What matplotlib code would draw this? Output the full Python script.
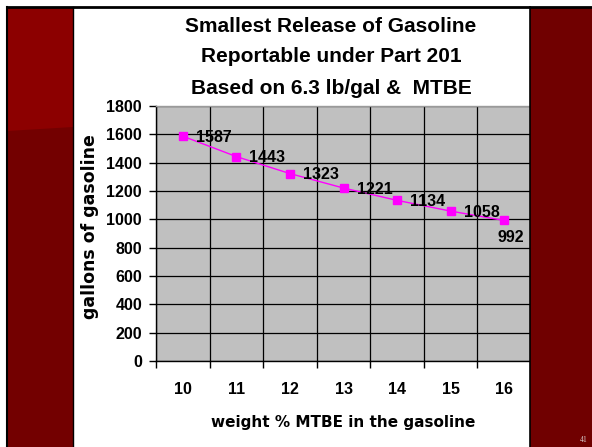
import matplotlib
matplotlib.use("Agg")
import matplotlib.pyplot as plt
from matplotlib.patches import Rectangle, Polygon
from matplotlib.lines import Line2D

plt.rcParams['font.family'] = ['Liberation Sans', 'DejaVu Sans']

# ---- data ----
categories = ['10', '11', '12', '13', '14', '15', '16']
gallons = [1587, 1443, 1323, 1221, 1134, 1058, 992]
y_ticks = [0, 200, 400, 600, 800, 1000, 1200, 1400, 1600, 1800]
title_lines = ["Smallest Release of Gasoline",
               "Reportable under Part 201",
               "Based on 6.3 lb/gal &  MTBE"]
x_label = "weight % MTBE in the gasoline"
y_label = "gallons of gasoline"

W, H = 592, 447
fig = plt.figure(figsize=(W / 100, H / 100), dpi=100)
fig.patch.set_facecolor('white')

def fx(px):
    return px / W

def fy(py):
    return 1 - py / H

# ---- slide background panels ----
fig.patches.append(Rectangle((fx(7), fy(447)), fx(66), fy(7) - fy(447),
                             transform=fig.transFigure, facecolor='#730000',
                             edgecolor='none', zorder=1))
fig.patches.append(Polygon([(fx(7), fy(7)), (fx(73), fy(7)), (fx(73), fy(127)),
                            (fx(7), fy(131))], closed=True,
                           transform=fig.transFigure, facecolor='#8C0000',
                           edgecolor='none', zorder=1.1))
fig.patches.append(Rectangle((fx(530), fy(447)), fx(62), fy(7) - fy(447),
                             transform=fig.transFigure, facecolor='#700000',
                             edgecolor='none', zorder=1))
for (x0, y0, x1, y1, lw) in [(7, 7, 592, 7, 2.0), (7, 7, 7, 447, 1.5),
                             (73, 7, 73, 447, 1.0), (530, 7, 530, 447, 1.2)]:
    fig.lines.append(Line2D([fx(x0), fx(x1)], [fy(y0), fy(y1)],
                            transform=fig.transFigure, color='black',
                            linewidth=lw, zorder=2))
fig.text(fx(584), fy(440), "41", fontsize=5.5, color='#d8c8c8',
         family='Liberation Serif', ha='center', va='center', zorder=3)

# ---- chart ----
L, R, T, B = 156, 531, 106, 361
ax = fig.add_axes([fx(L), fy(B), fx(R - L), fy(T) - fy(B)])
ax.set_facecolor('#C0C0C0')
x = list(range(len(categories)))
ax.plot(x, gallons, color='#FF00FF', linewidth=1.0, marker='s',
        markersize=6, markerfacecolor='#FF00FF', markeredgecolor='#FF00FF',
        zorder=3)

for i, v in enumerate(gallons):
    if i == len(gallons) - 1:
        off, ha, va = (-7, -17), 'left', 'center'
    else:
        off, ha, va = (13, -1), 'left', 'center'
    ax.annotate(str(v), (i, v), xytext=off, textcoords='offset pixels',
                ha=ha, va=va, fontsize=11.5, fontweight='bold', zorder=4,
                annotation_clip=False)

ax.set_xlim(-0.5, len(categories) - 0.5)
ax.set_ylim(0, 1800)
ax.set_yticks(y_ticks)
ax.set_yticklabels([str(t) for t in y_ticks], fontsize=11.5, fontweight='bold')
ax.set_xticks(x)
ax.set_xticklabels(categories, fontsize=11.5, fontweight='bold')
ax.set_xticks([i - 0.5 for i in range(len(categories) + 1)], minor=True)
ax.tick_params(axis='x', which='major', length=0, pad=15)
ax.tick_params(axis='x', which='minor', length=5, width=1, direction='out')
ax.tick_params(axis='y', which='major', length=5, width=1, direction='out', pad=5)

ax.grid(True, axis='y', which='major', color='black', linewidth=0.9)
ax.grid(True, axis='x', which='minor', color='black', linewidth=0.9)
ax.set_axisbelow(True)

ax.spines['left'].set_color('black')
ax.spines['bottom'].set_color('black')
ax.spines['top'].set_color('#9a9a9a')
ax.spines['right'].set_color('#808080')
for s in ax.spines.values():
    s.set_linewidth(1.0)

fig.text(fx(343), fy(423), x_label, fontsize=11, fontweight='bold',
         family=['DejaVu Sans'], ha='center', va='center')
fig.text(fx(90), fy(227), y_label, fontsize=12.5, fontweight='bold',
         family=['DejaVu Sans'], ha='center', va='center', rotation=90)

for line, yc in zip(title_lines, [26, 57, 89]):
    fig.text(fx(331), fy(yc), line, fontsize=15, fontweight='bold',
             ha='center', va='center')

fig.savefig('out.png', dpi=100, facecolor='white')
